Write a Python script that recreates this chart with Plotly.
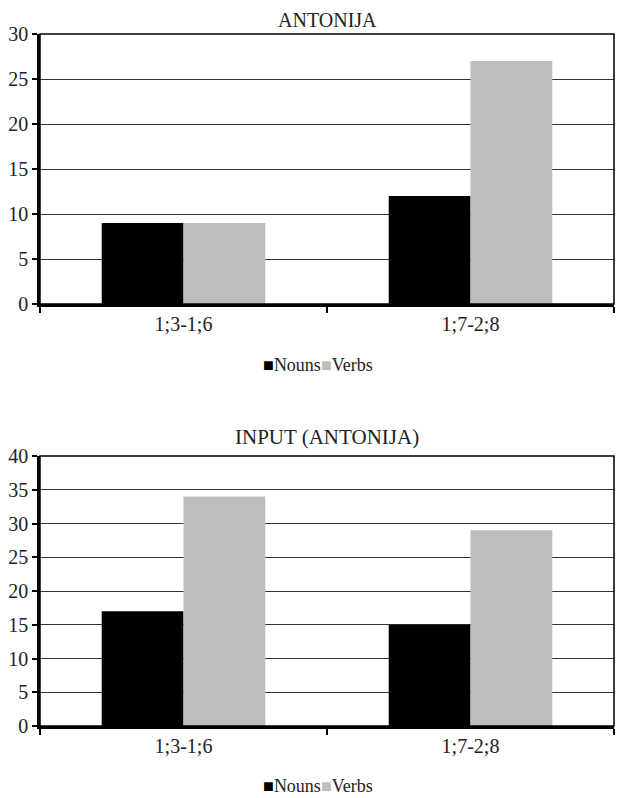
import plotly.graph_objects as go

categories = ["1;3-1;6", "1;7-2;8"]
series_names = ["Nouns", "Verbs"]
top_title = "ANTONIJA"
top_nouns = [9, 12]
top_verbs = [9, 27]
bottom_title = "INPUT (ANTONIJA)"
bottom_nouns = [17, 15]
bottom_verbs = [34, 29]
top_ticks = [0, 5, 10, 15, 20, 25, 30]
bottom_ticks = [0, 5, 10, 15, 20, 25, 30, 35, 40]

W, H = 624, 798
OFF = 8  # page body margin
FONT = "Liberation Serif"
colors = ["#000000", "#bdbdbd"]
TXT = "#222"

def px_(sx):
    return (sx - OFF) / W

def py(sy):
    return 1 - (sy - OFF) / H

fig = go.Figure()

panels = [
    (top_nouns, top_verbs, "x", "y"),
    (bottom_nouns, bottom_verbs, "x2", "y2"),
]
for nouns, verbs, xa, ya in panels:
    for name, vals, c in zip(series_names, [nouns, verbs], colors):
        fig.add_trace(go.Bar(
            x=categories, y=vals, name=name, marker=dict(color=c, line=dict(width=0)),
            xaxis=xa, yaxis=ya, showlegend=False,
        ))

xdom = [px_(40), px_(614)]
axis_common_x = dict(
    domain=xdom, type="category", showline=True, linecolor="black", linewidth=2.5,
    ticks="outside", tickson="boundaries", ticklen=6, tickwidth=1.5, tickcolor="black",
    tickfont=dict(family=FONT, size=20, color=TXT), showgrid=False, zeroline=False,
    automargin=False,
)
axis_common_y = dict(
    showline=True, linecolor="black", linewidth=2.5, ticks="outside", ticklen=5,
    tickwidth=2, tickcolor="black", showgrid=True, gridcolor="#333", gridwidth=1.3,
    tickfont=dict(family=FONT, size=20, color=TXT), zeroline=False, automargin=False,
)

def legend_text():
    parts = []
    for name, c in zip(series_names, colors):
        parts.append(f"<span style='color:{c}'>■</span>{name}")
    return "".join(parts)

fig.update_layout(
    width=W, height=H, margin=dict(l=0, r=0, t=0, b=0, autoexpand=False),
    paper_bgcolor="white", plot_bgcolor="white",
    barmode="group", bargap=0.43, bargroupgap=0,
    font=dict(family=FONT, color=TXT),
    showlegend=False,
    xaxis=dict(**axis_common_x, anchor="y"),
    yaxis=dict(**axis_common_y, domain=[py(304), py(34)], range=[0, 30],
               tickvals=top_ticks, anchor="x"),
    xaxis2=dict(**axis_common_x, anchor="y2"),
    yaxis2=dict(**axis_common_y, domain=[py(726), py(456)], range=[0, 40],
                tickvals=bottom_ticks, anchor="x2"),
    annotations=[
        dict(text=top_title, x=px_(327), y=1, xref="paper", yref="paper",
             showarrow=False, font=dict(family=FONT, size=20, color=TXT), yanchor="top",
             borderpad=0),
        dict(text=bottom_title, x=px_(327), y=py(437), xref="paper", yref="paper",
             showarrow=False, font=dict(family=FONT, size=21, color=TXT), yanchor="middle"),
        dict(text=legend_text(), x=px_(318), y=py(365), xref="paper", yref="paper",
             showarrow=False, font=dict(family=FONT, size=18, color=TXT), yanchor="middle"),
        dict(text=legend_text(), x=px_(318), y=py(786), xref="paper", yref="paper",
             showarrow=False, font=dict(family=FONT, size=18, color=TXT), yanchor="middle"),
    ],
    shapes=[
        dict(type="rect", xref="x domain", yref="y domain", x0=0, x1=1, y0=0, y1=1,
             line=dict(color="black", width=1.5), layer="above"),
        dict(type="rect", xref="x2 domain", yref="y2 domain", x0=0, x1=1, y0=0, y1=1,
             line=dict(color="black", width=1.5), layer="above"),
    ],
)

fig.write_html("out.html")
